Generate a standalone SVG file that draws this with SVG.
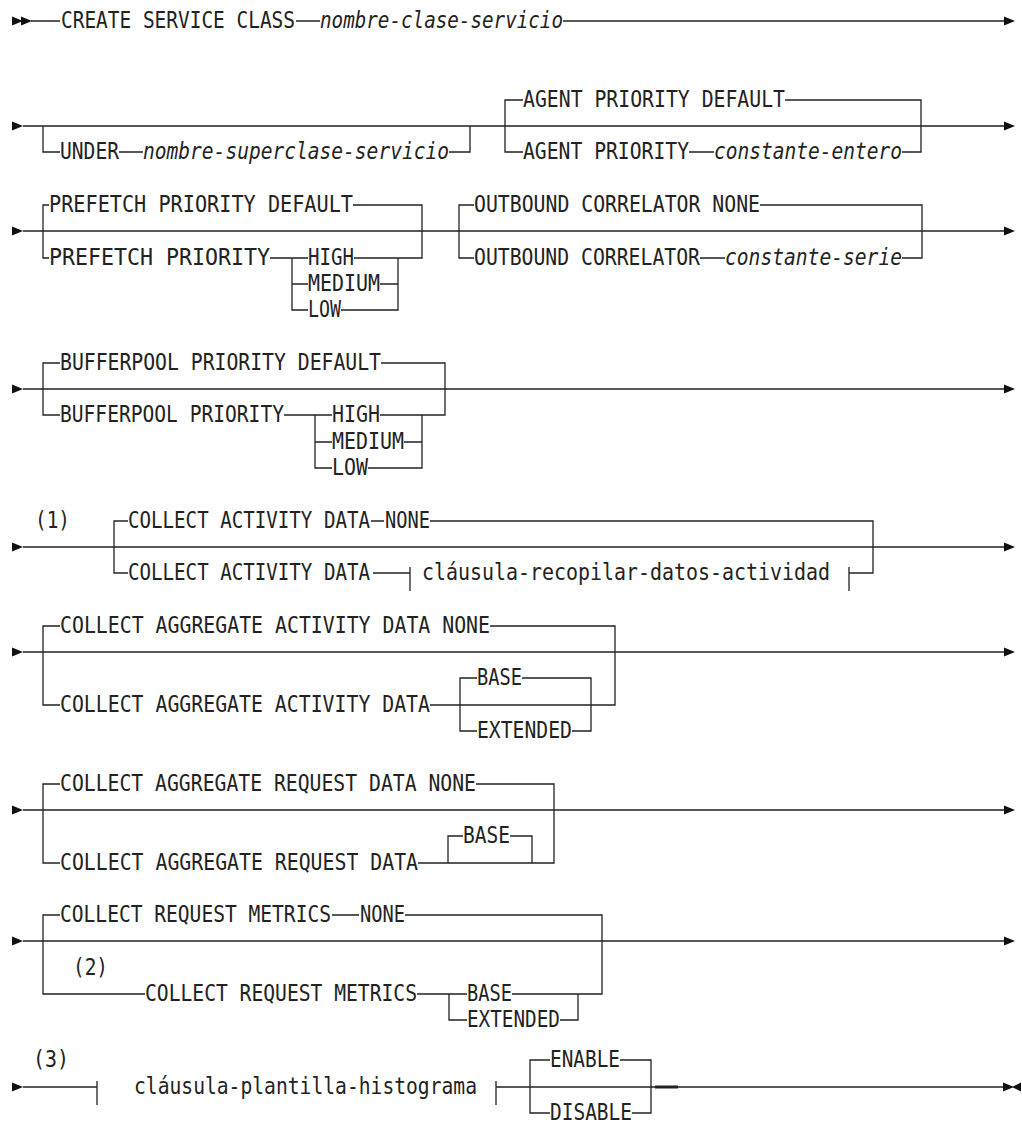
<svg xmlns="http://www.w3.org/2000/svg" xmlns:xlink="http://www.w3.org/1999/xlink" width="1022" height="1133" viewBox="0 0 1022 1133">
<style>
.c{stroke:#222;stroke-width:1.3;fill:none}
.tk{stroke:#222;stroke-width:3;fill:none}
.a{fill:#111;stroke:none}
text{font-family:"DejaVu Sans Mono","Liberation Mono",monospace;font-size:22.5px;fill:#222}
.i{font-style:italic}
</style>
<defs>
<polygon id="ar" class="a" points="0,-4.5 11,0 0,4.5"/>
<polygon id="al" class="a" points="0,-4.5 -9,0 0,4.5"/>
</defs>
<rect width="1022" height="1133" fill="#fff"/>
<g id="connectors">
<use href="#ar" x="12" y="21"/><use href="#ar" x="21" y="21"/>
<path class="c" d="M31,21H60M296,21H320M563,21H1004"/><use href="#ar" x="1004" y="21"/>
<use href="#ar" x="12" y="126"/>
<path class="c" d="M23,126H1004M43,126V152H60M119,152H143M449,152H470V126M523,100H505V152H523M785,100H921V152H902M689,152H714"/><use href="#ar" x="1004" y="126"/>
<use href="#ar" x="12" y="231"/>
<path class="c" d="M23,231H1004M49,205H43V258H49M353,205H422V258H354M270,258H308M292,258V310H308M292,284H308M380,284H398M341,310H398V258M474,205H459V258H474M760,205H922V258H902M700,258H725"/><use href="#ar" x="1004" y="231"/>
<use href="#ar" x="12" y="389"/>
<path class="c" d="M23,389H1004M60,363H43V415H60M381,363H445V415H380M284,415H332M315,415V468H332M315,442H332M404,442H422M368,468H422V415"/><use href="#ar" x="1004" y="389"/>
<use href="#ar" x="12" y="547"/>
<path class="c" d="M23,547H1004M128,521H114V573H128M371,521H384M430,521H873V573H849M849,567V591M373,573H410M410,567V591"/><use href="#ar" x="1004" y="547"/>
<use href="#ar" x="12" y="652"/>
<path class="c" d="M23,652H1004M60,626H43V705H60M490,626H615V705H430M477,678H460V731H477M522,678H591V731H572"/><use href="#ar" x="1004" y="652"/>
<use href="#ar" x="12" y="810"/>
<path class="c" d="M23,810H1004M60,784H43V863H60M476,784H554V863H418M463,836H448V863M510,836H532V863"/><use href="#ar" x="1004" y="810"/>
<use href="#ar" x="12" y="941"/>
<path class="c" d="M23,941H1004M60,915H43V994H145M332,915H359M405,915H602V994H512M417,994H467M449,994V1020H467M560,1020H578V994"/><use href="#ar" x="1004" y="941"/>
<use href="#ar" x="12" y="1087"/>
<path class="c" d="M23,1087H97M97,1081V1105M496,1081V1105M496,1087H1003M550,1060H530V1113H550M620,1060H651V1113H632"/>
<path class="tk" d="M655,1087H678"/>
<use href="#ar" x="1003" y="1087"/><use href="#al" x="1021" y="1087"/>
</g>
<g id="n-create"><text x="61" y="28" textLength="234" lengthAdjust="spacingAndGlyphs">CREATE SERVICE CLASS</text></g>
<g id="n-nombre-clase"><text class="i" x="320" y="28" textLength="243" lengthAdjust="spacingAndGlyphs">nombre-clase-servicio</text></g>
<g id="n-under"><text x="60" y="159" textLength="59" lengthAdjust="spacingAndGlyphs">UNDER</text></g>
<g id="n-superclase"><text class="i" x="143" y="159" textLength="306" lengthAdjust="spacingAndGlyphs">nombre-superclase-servicio</text></g>
<g id="n-agent-default"><text x="523" y="107" textLength="262" lengthAdjust="spacingAndGlyphs">AGENT PRIORITY DEFAULT</text></g>
<g id="n-agent"><text x="523" y="159" textLength="166" lengthAdjust="spacingAndGlyphs">AGENT PRIORITY</text></g>
<g id="n-const-entero"><text class="i" x="714" y="159" textLength="188" lengthAdjust="spacingAndGlyphs">constante-entero</text></g>
<g id="n-prefetch-default"><text x="49" y="212" textLength="304" lengthAdjust="spacingAndGlyphs">PREFETCH PRIORITY DEFAULT</text></g>
<g id="n-prefetch"><text x="49" y="265" textLength="221" lengthAdjust="spacingAndGlyphs">PREFETCH PRIORITY</text></g>
<g id="n-pf-high"><text x="308" y="265" textLength="46" lengthAdjust="spacingAndGlyphs">HIGH</text></g>
<g id="n-pf-medium"><text x="308" y="291" textLength="72" lengthAdjust="spacingAndGlyphs">MEDIUM</text></g>
<g id="n-pf-low"><text x="308" y="317" textLength="33" lengthAdjust="spacingAndGlyphs">LOW</text></g>
<g id="n-outbound-none"><text x="474" y="212" textLength="286" lengthAdjust="spacingAndGlyphs">OUTBOUND CORRELATOR NONE</text></g>
<g id="n-outbound"><text x="474" y="265" textLength="226" lengthAdjust="spacingAndGlyphs">OUTBOUND CORRELATOR</text></g>
<g id="n-const-serie"><text class="i" x="725" y="265" textLength="177" lengthAdjust="spacingAndGlyphs">constante-serie</text></g>
<g id="n-bp-default"><text x="60" y="370" textLength="321" lengthAdjust="spacingAndGlyphs">BUFFERPOOL PRIORITY DEFAULT</text></g>
<g id="n-bp"><text x="60" y="422" textLength="224" lengthAdjust="spacingAndGlyphs">BUFFERPOOL PRIORITY</text></g>
<g id="n-bp-high"><text x="332" y="422" textLength="48" lengthAdjust="spacingAndGlyphs">HIGH</text></g>
<g id="n-bp-medium"><text x="332" y="449" textLength="72" lengthAdjust="spacingAndGlyphs">MEDIUM</text></g>
<g id="n-bp-low"><text x="332" y="475" textLength="36" lengthAdjust="spacingAndGlyphs">LOW</text></g>
<g id="n-note1"><text x="35" y="528" textLength="35" lengthAdjust="spacingAndGlyphs">(1)</text></g>
<g id="n-cad-none"><text x="128" y="528" textLength="242" lengthAdjust="spacingAndGlyphs">COLLECT ACTIVITY DATA</text><text x="385" y="528" textLength="45" lengthAdjust="spacingAndGlyphs">NONE</text></g>
<g id="n-cad"><text x="128" y="580" textLength="242" lengthAdjust="spacingAndGlyphs">COLLECT ACTIVITY DATA</text></g>
<g id="n-clausula-datos"><text x="422" y="580" textLength="408" lengthAdjust="spacingAndGlyphs">cláusula-recopilar-datos-actividad</text></g>
<g id="n-caad-none"><text x="60" y="633" textLength="430" lengthAdjust="spacingAndGlyphs">COLLECT AGGREGATE ACTIVITY DATA NONE</text></g>
<g id="n-caad"><text x="60" y="712" textLength="370" lengthAdjust="spacingAndGlyphs">COLLECT AGGREGATE ACTIVITY DATA</text></g>
<g id="n-caad-base"><text x="477" y="685" textLength="45" lengthAdjust="spacingAndGlyphs">BASE</text></g>
<g id="n-caad-ext"><text x="477" y="738" textLength="95" lengthAdjust="spacingAndGlyphs">EXTENDED</text></g>
<g id="n-card-none"><text x="60" y="791" textLength="416" lengthAdjust="spacingAndGlyphs">COLLECT AGGREGATE REQUEST DATA NONE</text></g>
<g id="n-card"><text x="60" y="870" textLength="358" lengthAdjust="spacingAndGlyphs">COLLECT AGGREGATE REQUEST DATA</text></g>
<g id="n-card-base"><text x="463" y="843" textLength="47" lengthAdjust="spacingAndGlyphs">BASE</text></g>
<g id="n-crm-none"><text x="60" y="922" textLength="271" lengthAdjust="spacingAndGlyphs">COLLECT REQUEST METRICS</text><text x="360" y="922" textLength="45" lengthAdjust="spacingAndGlyphs">NONE</text></g>
<g id="n-note2"><text x="73" y="975" textLength="35" lengthAdjust="spacingAndGlyphs">(2)</text></g>
<g id="n-crm"><text x="145" y="1001" textLength="272" lengthAdjust="spacingAndGlyphs">COLLECT REQUEST METRICS</text></g>
<g id="n-crm-base"><text x="467" y="1001" textLength="45" lengthAdjust="spacingAndGlyphs">BASE</text></g>
<g id="n-crm-ext"><text x="467" y="1027" textLength="93" lengthAdjust="spacingAndGlyphs">EXTENDED</text></g>
<g id="n-note3"><text x="33" y="1067" textLength="36" lengthAdjust="spacingAndGlyphs">(3)</text></g>
<g id="n-clausula-hist"><text x="134" y="1094" textLength="343" lengthAdjust="spacingAndGlyphs">cláusula-plantilla-histograma</text></g>
<g id="n-enable"><text x="550" y="1067" textLength="70" lengthAdjust="spacingAndGlyphs">ENABLE</text></g>
<g id="n-disable"><text x="550" y="1120" textLength="82" lengthAdjust="spacingAndGlyphs">DISABLE</text></g>
</svg>
